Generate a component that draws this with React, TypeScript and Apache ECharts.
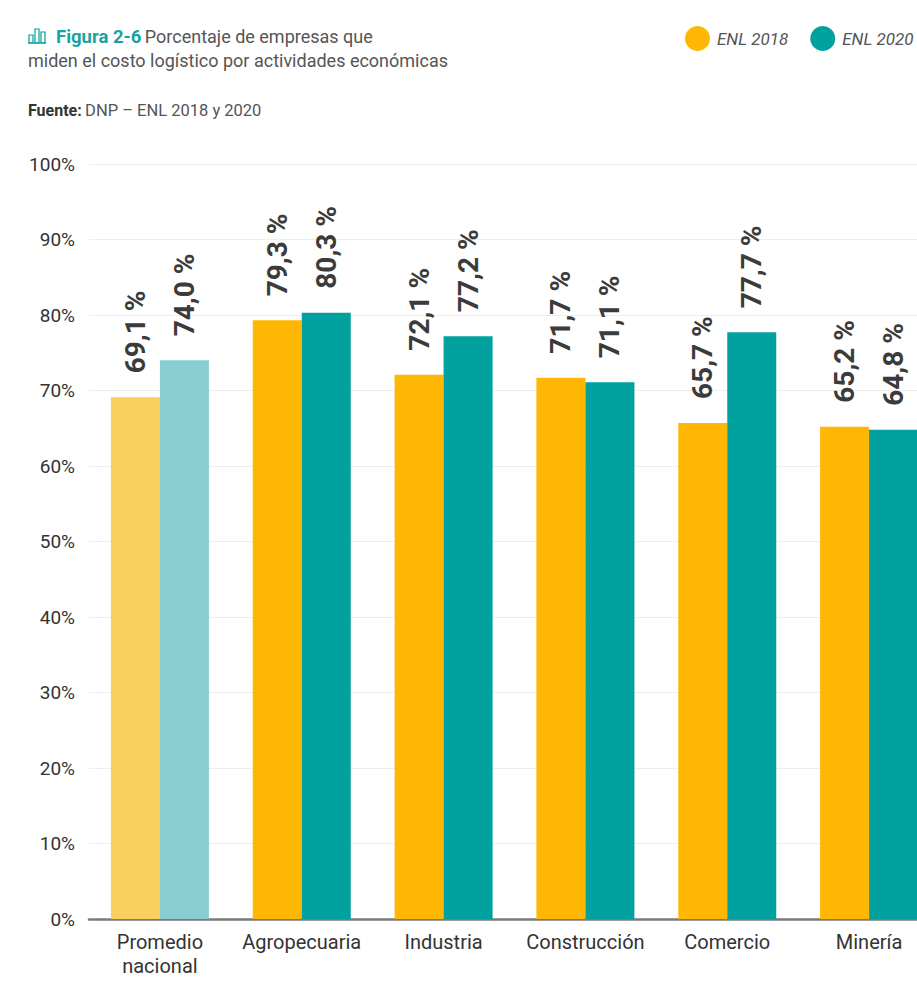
import React, { useEffect, useRef } from "react";
import * as echarts from "echarts";

const categories = ["Promedio\nnacional", "Agropecuaria", "Industria", "Construcción", "Comercio", "Minería"];
const seriesNames = ["ENL 2018", "ENL 2020"];
const values2018 = [69.1, 79.3, 72.1, 71.7, 65.7, 65.2];
const values2020 = [74.0, 80.3, 77.2, 71.1, 77.7, 64.8];
const yTicks = [0, 10, 20, 30, 40, 50, 60, 70, 80, 90, 100];

const YELLOW = "#FFB703";
const TEAL = "#00A19E";
const YELLOW_LIGHT = "#F8CE5F";
const TEAL_LIGHT = "#89CDD2";
const FONT = "Roboto, 'Noto Sans', sans-serif";

const fmt = (v: number) => v.toFixed(1).replace(".", ",") + " %";

export default function App() {
  const ref = useRef<HTMLDivElement>(null);
  useEffect(() => {
    if (!ref.current) return;
    const chart = echarts.init(ref.current, undefined, { renderer: "svg" });
    const label = {
      show: true,
      position: "top",
      rotate: 90,
      align: "left",
      verticalAlign: "middle",
      distance: 24,
      fontSize: 28,
      fontWeight: "bold",
      fontFamily: FONT,
      color: "#3b3b3b",
      formatter: (p: any) => fmt(p.value),
    };
    const mk = (vals: number[], light: string) =>
      vals.map((v, i) => (i === 0 ? { value: v, itemStyle: { color: light } } : v));
    chart.setOption({
      animation: false,
      backgroundColor: "#ffffff",
      textStyle: { fontFamily: FONT },
      legend: {
        left: 680,
        top: 21,
        icon: "circle",
        itemWidth: 25,
        itemHeight: 25,
        itemGap: 22,
        data: seriesNames,
        textStyle: { fontSize: 17, fontStyle: "italic", color: "#555", fontFamily: FONT, padding: [0, 0, 0, 2] },
      },
      grid: { left: 89, right: 0, top: 164, bottom: 76, containLabel: false },
      xAxis: {
        type: "category",
        data: categories,
        axisLine: { show: true, lineStyle: { color: "#7a7a7a", width: 2.5 } },
        axisTick: { show: false },
        axisLabel: {
          interval: 0,
          margin: 11,
          fontSize: 20,
          fontWeight: "normal",
          lineHeight: 24,
          color: "#333",
          fontFamily: FONT,
        },
      },
      yAxis: {
        type: "value",
        min: yTicks[0],
        max: yTicks[yTicks.length - 1],
        interval: 10,
        axisLine: { show: false },
        axisTick: { show: false },
        splitLine: { lineStyle: { color: "#eeeeee", width: 1 } },
        axisLabel: {
          margin: 14,
          fontSize: 19,
          fontWeight: "normal",
          color: "#333",
          fontFamily: FONT,
          formatter: (v: number) => v + "%",
        },
      },
      series: [
        {
          name: seriesNames[0],
          type: "bar",
          barWidth: 49,
          barGap: "0%",
          itemStyle: { color: YELLOW },
          data: mk(values2018, YELLOW_LIGHT),
          label,
        },
        {
          name: seriesNames[1],
          type: "bar",
          barWidth: 49,
          barGap: "0%",
          itemStyle: { color: TEAL },
          data: mk(values2020, TEAL_LIGHT),
          label,
        },
      ],
      graphic: [
        { type: "line", shape: { x1: 28, y1: 43, x2: 46, y2: 43 }, style: { stroke: TEAL, lineWidth: 1.2 } },
        { type: "rect", shape: { x: 29, y: 35, width: 4, height: 8 }, style: { fill: "none", stroke: TEAL, lineWidth: 1.2 } },
        { type: "rect", shape: { x: 35, y: 29, width: 4, height: 14 }, style: { fill: "none", stroke: TEAL, lineWidth: 1.2 } },
        { type: "rect", shape: { x: 41, y: 32, width: 4, height: 11 }, style: { fill: "none", stroke: TEAL, lineWidth: 1.2 } },
        {
          type: "text",
          left: 56,
          top: 27,
          style: {
            text: "{b|Figura 2-6} {n|Porcentaje de empresas que}",
            rich: {
              b: { fontSize: 18.5, fontWeight: "bold", fill: "#18A3A0", fontFamily: FONT },
              n: { fontSize: 18, fill: "#555", fontFamily: FONT },
            },
          },
        },
        {
          type: "text",
          left: 28,
          top: 51,
          style: { text: "miden el costo logístico por actividades económicas", fontSize: 18, fill: "#555", fontFamily: FONT },
        },
        {
          type: "text",
          left: 28,
          top: 102,
          style: {
            text: "{b|Fuente:} {n|DNP – ENL 2018 y 2020}",
            rich: {
              b: { fontSize: 16, fontWeight: "bold", fill: "#333", fontFamily: FONT },
              n: { fontSize: 16.5, fill: "#555", fontFamily: FONT },
            },
          },
        },
      ],
    });
    return () => chart.dispose();
  }, []);
  return (
    <div style={{ position: "fixed", left: 0, top: 0, width: 917, height: 995, overflow: "hidden", background: "#fff" }}>
      <div ref={ref} style={{ width: 940, height: 995 }} />
    </div>
  );
}
